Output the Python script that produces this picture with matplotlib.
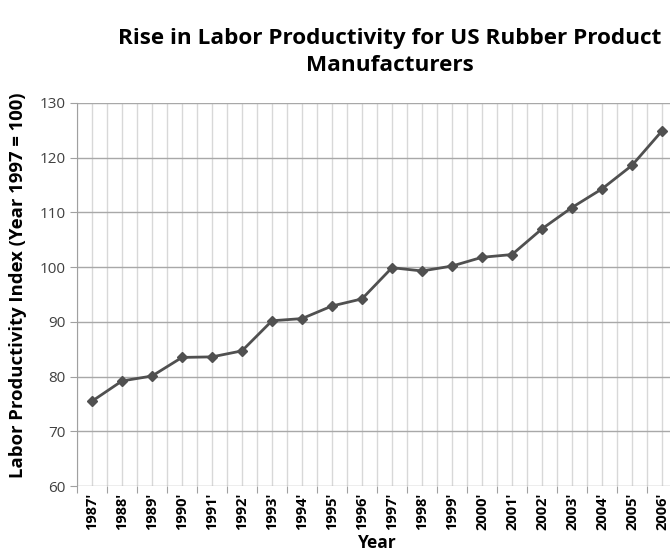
import numpy as np
import matplotlib
matplotlib.use("Agg")
import matplotlib.pyplot as plt

years = ["1987'", "1988'", "1989'", "1990'", "1991'", "1992'", "1993'", "1994'", "1995'", "1996'",
         "1997'", "1998'", "1999'", "2000'", "2001'", "2002'", "2003'", "2004'", "2005'", "2006'"]
productivity = [75.5, 79.2, 80.1, 83.5, 83.6, 84.7, 90.2, 90.6, 92.9, 94.2,
                99.9, 99.3, 100.2, 101.8, 102.3, 107.0, 110.9, 114.3, 118.6, 124.9]

plt.rcParams["font.family"] = ["Open Sans", "DejaVu Sans"]

fig = plt.figure(figsize=(6.7, 5.52), dpi=100)
# plot area runs a bit past the right edge, as in the original
ax = fig.add_axes([77 / 670, 1 - 486 / 552, 600 / 670, (486 - 103) / 552])

x = np.arange(len(years))
ax.plot(x, productivity, color="#505050", linewidth=2, marker="D", markersize=5,
        markerfacecolor="#505050", markeredgecolor="#505050", zorder=3)

ax.set_xlim(-0.5, len(years) - 0.5)
ax.set_ylim(60, 130)
ax.set_yticks(range(60, 131, 10))

# category boundaries carry the tick marks, centres carry the labels
ax.set_xticks(np.arange(-0.5, len(years), 1.0))
ax.set_xticklabels([])
ax.set_xticks(x, minor=True)
ax.set_xticklabels(years, minor=True, rotation=90, fontweight="bold", fontsize=10.5)
ax.tick_params(axis="x", which="major", length=5, color="#a0a0a0")
ax.tick_params(axis="x", which="minor", length=0, pad=5)
ax.tick_params(axis="y", length=5, color="#a0a0a0", labelsize=11, labelcolor="#404040", pad=3)

ax.grid(axis="y", color="#a8a8a8", linewidth=1.0)
ax.grid(axis="x", which="both", color="#d8d8d8", linewidth=1.0)
ax.set_axisbelow(True)

for side in ["top", "right", "bottom"]:
    ax.spines[side].set_visible(False)
ax.spines["left"].set_color("#a0a0a0")

ax.set_ylabel("Labor Productivity Index (Year 1997 = 100)", fontweight="bold", fontsize=13.3)
ax.yaxis.set_label_coords(-50 / 600, 0.525)
fig.text(377 / 670, 1 - 543 / 552, "Year", ha="center", va="center", fontweight="bold", fontsize=12.5)

fig.text(0.582, 0.95, "Rise in Labor Productivity for US Rubber Product\nManufacturers",
         ha="center", va="top", fontweight="bold", fontsize=16.2, linespacing=1.42)

fig.savefig("out.png", dpi=100)
